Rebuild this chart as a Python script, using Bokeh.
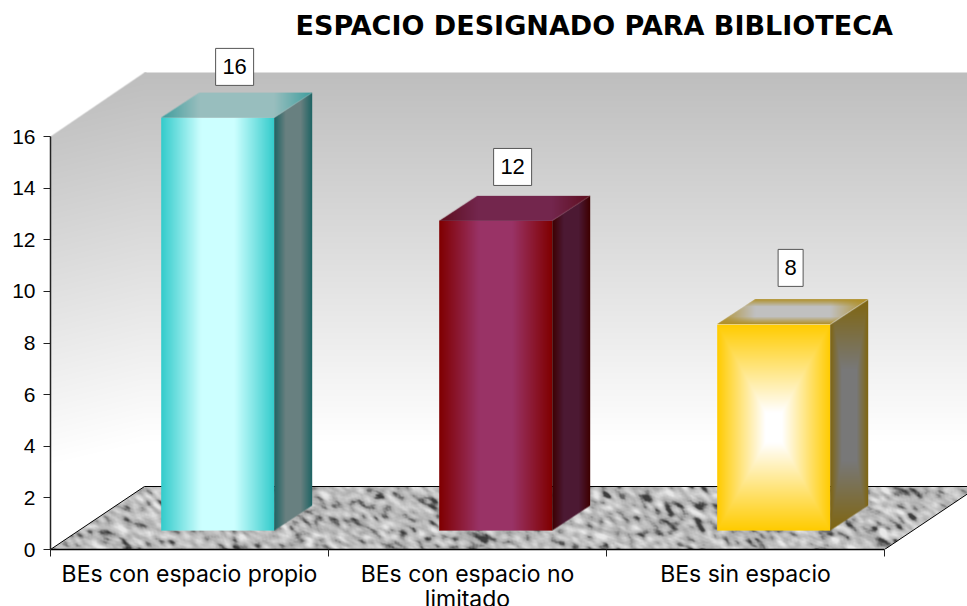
import numpy as np
from bokeh.embed import file_html
from bokeh.resources import INLINE
from bokeh.plotting import figure
from bokeh.models import Range1d, LinearAxis, FixedTicker, ColumnDataSource
from bokeh.core.properties import value

# ---- data ----
categories = ["BEs con espacio propio", "BEs con espacio no\nlimitado", "BEs sin espacio"]
values = [16, 12, 8]
y_ticks = [0, 2, 4, 6, 8, 10, 12, 14, 16]
title_text = "ESPACIO DESIGNADO PARA BIBLIOTECA"

# ---- scale ----
PX_X = 278.0       # pixels per category
PX_Y = 25.8125     # pixels per value unit
FW, FH = 917, 504
DEPTH_PX = (94.0, 63.0)
DX, DY = DEPTH_PX[0] / PX_X, DEPTH_PX[1] / PX_Y
Y_TOP = FH / PX_Y
X_END = FW / PX_X
BAR_W = 113.0 / PX_X
D0, D1 = 0.30, 0.70   # bar depth, fraction of the floor depth

FONT = "Liberation Sans"
LABEL_FONT = "Inter"
TITLE_FONT = "DejaVu Sans"


def lerp(a, b, t):
    a, b = np.array(a, float), np.array(b, float)
    return a + (b - a) * t[..., None]


def to_rgba(rgb, alpha):
    out = np.zeros(rgb.shape[:2] + (4,), dtype=np.uint8)
    out[..., :3] = np.clip(rgb, 0, 255).astype(np.uint8)
    out[..., 3] = np.clip(alpha * 255, 0, 255).astype(np.uint8)
    img = out[::-1].copy()
    return img.view(dtype=np.uint32).reshape(img.shape[:2])


def coverage(w, h, inside, ss=4):
    xs = (np.arange(w * ss) + 0.5) / ss
    ys = (np.arange(h * ss) + 0.5) / ss
    X, Y = np.meshgrid(xs, ys)
    m = inside(X, Y).astype(float)
    return m.reshape(h, ss, w, ss).mean(axis=(1, 3))


def uv(w, h):
    X, Y = np.meshgrid((np.arange(w) + 0.5) / w, (np.arange(h) + 0.5) / h)
    return X, Y


# ---- figure ----
p = figure(width=967, height=606, output_backend="svg", toolbar_location=None,
           x_range=Range1d(0, X_END), y_range=Range1d(0, Y_TOP),
           x_axis_type=None, y_axis_type=None,
           frame_width=FW, frame_height=FH,
           min_border_left=50, min_border_right=0, min_border_top=45, min_border_bottom=57,
           outline_line_color=None, background_fill_color=None, border_fill_color="white")
p.grid.visible = False
p.title.text = title_text
p.title.text_font = TITLE_FONT
p.title.text_font_size = "27px"
p.title.text_font_style = "bold"
p.title.text_color = "#000000"
p.title.align = "left"
p.title.offset = 245
p.title.standoff = 9

# ---- left wall ----
lw, lh = int(DEPTH_PX[0]) + 2, 477
def left_inside(X, Y):
    top = 64 * (1 - X / DEPTH_PX[0])
    return (Y >= top) & (Y <= top + 413)
XX, YY = np.meshgrid(np.arange(lw) + 0.5, np.arange(lh) + 0.5)
shade = np.clip((YY - 0.35 * 64 * (1 - XX / DEPTH_PX[0])) / 368, 0, 1)
p.image_rgba(image=[to_rgba(lerp((190, 190, 190), (255, 255, 255), shade), coverage(lw, lh, left_inside))],
             x=[0], y=[0], dw=[lw / PX_X], dh=[lh / PX_Y])

# ---- back wall ----
wall_w, wall_h = int(FW - DEPTH_PX[0]), 414
_, V = uv(wall_w, wall_h)
shade = np.clip(V * 414 / 368, 0, 1)
p.image_rgba(image=[to_rgba(lerp((190, 190, 190), (255, 255, 255), shade), np.ones_like(V))],
             x=[DX], y=[DY], dw=[wall_w / PX_X], dh=[wall_h / PX_Y])

# ---- floor ----
fw, fh = FW, int(DEPTH_PX[1])
J, I = np.meshgrid(np.arange(fw), np.arange(fh))
grain = np.sin(I * 12.9898 + J * 78.233) * 43758.5453
grain = grain - np.floor(grain)
streak = np.zeros_like(grain)
for k in range(-3, 4):
    streak += np.roll(grain, (int(round(k * 0.5)), k), axis=(0, 1))
soft = np.zeros_like(grain)
for a in (-2, -1, 0, 1, 2):
    for b in (-2, -1, 0, 1, 2):
        soft += np.roll(streak, (a, b), axis=(0, 1))
soft = (soft - soft.mean()) / soft.std()
gray = 186 + 19 * soft - 48 * np.clip(-soft - 0.8, 0, None)
gray = np.clip(gray, 60, 232)
def floor_inside(X, Y):
    left = DEPTH_PX[0] * (1 - Y / fh)
    return (X >= left) & (X <= left + 3 * PX_X)
p.image_rgba(image=[to_rgba(np.repeat(gray[..., None], 3, axis=2), coverage(fw, fh, floor_inside))],
             x=[0], y=[0], dw=[fw / PX_X], dh=[fh / PX_Y])
p.line(x=[0, DX, 3 + DX, 3], y=[0, DY, DY, 0], line_color="#000000", line_width=1)

# ---- bars ----
def axial(u):
    return np.clip((1 - np.abs(2 * u - 1)) / 0.7, 0, 1)

def path(u, v):
    return np.clip(1 - np.maximum(np.abs(2 * u - 1), np.abs(2 * v - 1)), 0, 1)

palette = [
    dict(front=((51, 204, 204), (204, 255, 255)), side=((30, 100, 100), (104, 128, 128)),
         top=((62, 158, 158), (152, 190, 190)), mode="axial"),
    dict(front=((128, 0, 0), (153, 51, 102)), side=((62, 0, 0), (76, 25, 51)),
         top=((94, 14, 30), (115, 38, 77)), mode="axial"),
    dict(front=((255, 204, 0), (255, 255, 255)), side=((128, 102, 16), (120, 120, 120)),
         top=((176, 144, 40), (192, 192, 192)), mode="path"),
]

dx_b = (D1 - D0) * DEPTH_PX[0]
dy_b = (D1 - D0) * DEPTH_PX[1]
for i, (val, c) in enumerate(zip(values, palette)):
    x0 = i + 0.5 + D0 * DX - BAR_W / 2
    y0 = D0 * DY
    w = int(round(BAR_W * PX_X))
    h = int(round(val * PX_Y))
    sw, sh = int(round(dx_b)), int(round(dy_b))
    # front
    U, V = uv(w, h)
    if c["mode"] == "axial":
        t = axial(U)
    else:
        t = np.clip(path(U, V) / 0.85, 0, 1)
    p.image_rgba(image=[to_rgba(lerp(c["front"][0], c["front"][1], t), np.ones_like(U))],
                 x=[x0], y=[y0], dw=[w / PX_X], dh=[h / PX_Y])
    # side
    U, V = uv(sw, h + sh)
    t = path(U, V * 0 + 0.5) if c["mode"] == "axial" else path(U, V)
    t = np.clip(t / 0.6, 0, 1)
    mask = coverage(sw, h + sh, lambda X, Y: (Y >= sh * (1 - X / sw)) & (Y <= sh * (1 - X / sw) + h))
    p.image_rgba(image=[to_rgba(lerp(c["side"][0], c["side"][1], t), mask)],
                 x=[x0 + BAR_W], y=[y0], dw=[sw / PX_X], dh=[(h + sh) / PX_Y])
    # top
    U, V = uv(w + sw, sh)
    t = np.clip((1 - np.abs(2 * U - 1)) / 0.5, 0, 1)
    if c["mode"] == "path":
        t = t * np.clip((1 - np.abs(2 * V - 1)) / 0.6, 0, 1)
    mask = coverage(w + sw, sh, lambda X, Y: (X >= sw * (1 - Y / sh)) & (X <= sw * (1 - Y / sh) + w))
    p.image_rgba(image=[to_rgba(lerp(c["top"][0], c["top"][1], t), mask)],
                 x=[x0], y=[y0 + val], dw=[(w + sw) / PX_X], dh=[sh / PX_Y])

# ---- data labels ----
label_gap_px = [25.5, 28.7, 31.0]
label_x = [i + 0.5 + 0.48 * DX for i in range(len(values))]
label_y = [v + D1 * DY + g / PX_Y for v, g in zip(values, label_gap_px)]
label_w = [38 if v >= 10 else 25 for v in values]
src = ColumnDataSource(dict(x=label_x, y=label_y, w=label_w, text=[str(v) for v in values]))
p.rect(x="x", y="y", width="w", height=37, width_units="screen", height_units="screen",
       source=src, fill_color="#ffffff", line_color="#555555", line_width=1)
p.text(x="x", y="y", text="text", source=src, text_font=value(FONT), text_font_size="22px",
       text_color="#000000", text_align="center", text_baseline="middle")

# ---- axes ----
yax = LinearAxis(ticker=FixedTicker(ticks=y_ticks), bounds=(0, 16))
yax.axis_line_color = "#222222"
yax.axis_line_width = 1.5
yax.major_tick_line_color = "#222222"
yax.major_tick_in = 0
yax.major_tick_out = 7
yax.minor_tick_line_color = None
yax.major_label_standoff = 8
yax.major_label_text_font = FONT
yax.major_label_text_font_size = "21px"
yax.major_label_text_color = "#000000"
p.add_layout(yax, "left")

cat_pos = [i + 0.5 for i in range(len(categories))]
xax = LinearAxis(ticker=FixedTicker(ticks=cat_pos, minor_ticks=list(range(len(categories) + 1))),
                 bounds=(0, 3))
xax.major_label_overrides = {k: v for k, v in zip(cat_pos, categories)}
xax.axis_line_color = "#000000"
xax.axis_line_width = 1.5
xax.major_tick_line_color = None
xax.major_tick_in = 0
xax.major_tick_out = 0
xax.minor_tick_line_color = "#222222"
xax.minor_tick_in = 0
xax.minor_tick_out = 7
xax.major_label_standoff = 3
xax.major_label_text_font = LABEL_FONT
xax.major_label_text_font_size = "23px"
xax.major_label_text_line_height = 0.9
xax.major_label_text_color = "#000000"
p.add_layout(xax, "below")

open("out.html", "w").write(file_html(p, INLINE))
